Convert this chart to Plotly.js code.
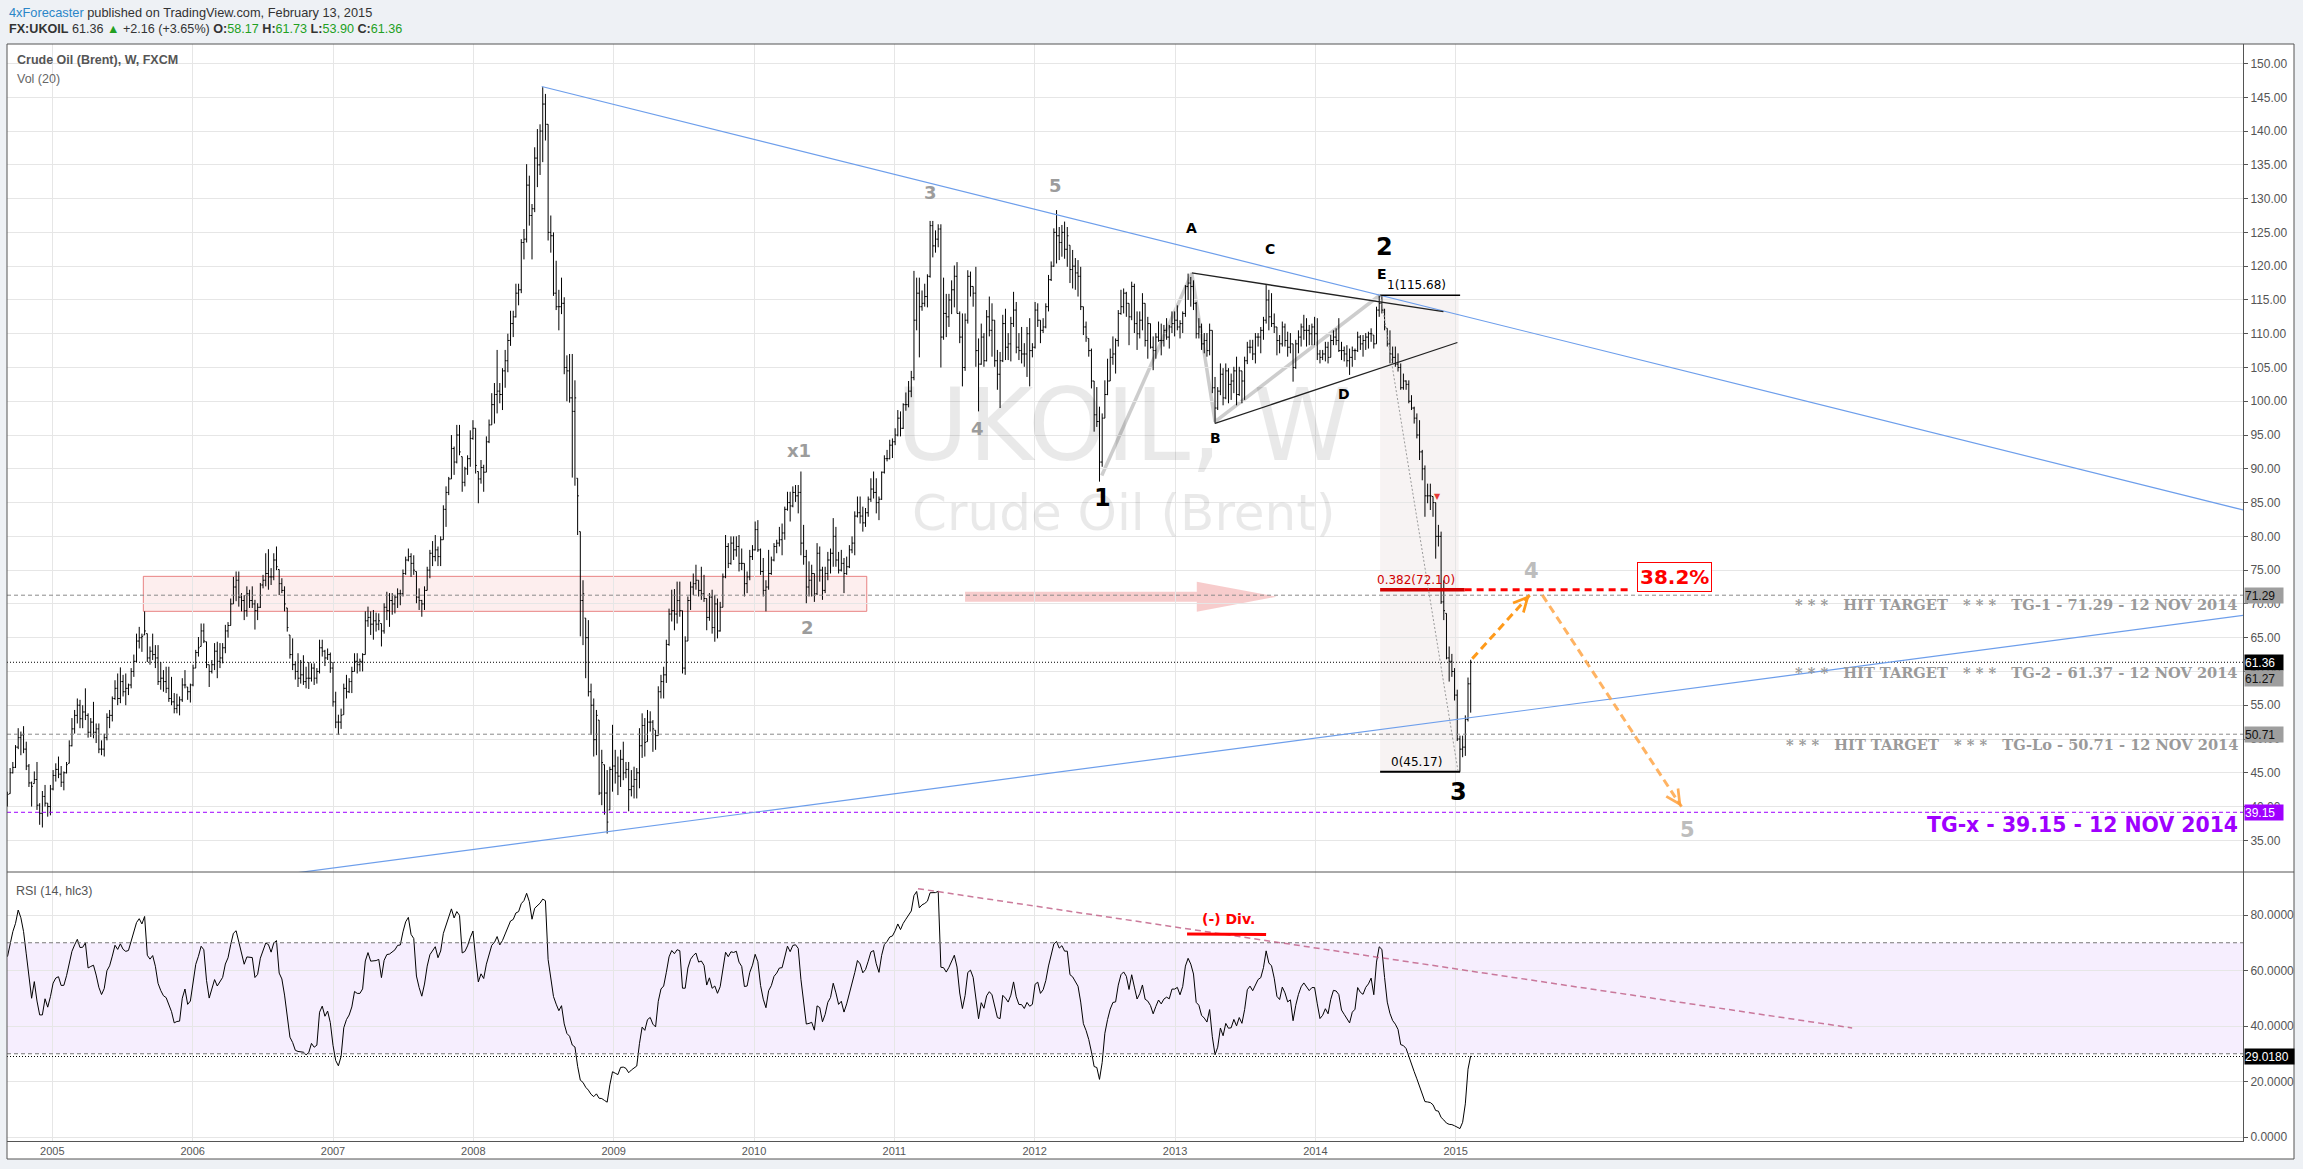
<!DOCTYPE html>
<html><head><meta charset="utf-8">
<script src="https://cdn.plot.ly/plotly-3.0.1.min.js"></script>
<style>html,body{margin:0;padding:0;background:#eef1f5;}#chart{width:2303px;height:1169px;}</style>
</head><body><div id="chart"></div>
<script>
// ---------- DATA (weekly bars, Brent FXCM, first week starts 2004-09-06) ----------
const firstWeekUTC = Date.UTC(2004, 8, 6);
const weekHigh = [
42.2,45.7,46.6,49.1,51.6,51.1,51.9,49.6,46.3,43.7, 45.2,46.6,40.5,42.3,43.2,40.5,43.2,45.4,46.4,47.4,
46.0,45.2,46.6,49.8,53.1,54.3,56.0,55.8,55.0,57.5, 53.8,53.1,55.5,52.3,52.3,49.8,50.8,53.8,54.3,56.3,
58.7,59.7,60.6,59.5,59.7,58.2,60.5,62.5,65.6,66.6, 65.6,68.9,65.6,63.7,65.6,63.9,63.9,61.4,60.2,60.7,
60.7,59.2,56.8,56.7,56.3,59.0,60.2,57.7,58.2,61.0, 63.2,65.1,67.1,67.1,64.4,61.0,61.7,64.2,64.4,64.2,
64.2,66.9,67.3,70.8,74.0,74.8,74.8,71.6,71.3,72.6, 72.1,72.6,70.6,70.1,73.1,74.3,77.5,78.1,75.3,77.5,
78.5,75.1,73.8,72.6,69.4,65.4,64.9,61.5,62.7,61.7, 62.4,60.7,61.4,61.2,61.2,60.5,64.7,64.7,63.2,63.4,
62.8,61.4,57.0,53.6,54.5,58.2,59.5,59.0,60.7,62.7, 62.7,61.9,62.7,68.9,69.6,68.9,69.1,68.7,68.6,67.1,
70.1,71.8,71.6,71.6,71.3,72.3,72.1,75.1,77.0,78.2, 77.5,77.2,74.8,72.3,70.6,72.6,75.5,78.0,79.3,80.2,
78.5,80.0,84.6,87.4,88.8,95.0,93.3,96.5,96.5,91.8, 90.3,92.0,95.7,97.2,96.0,89.6,91.3,90.6,94.8,97.3,
101.2,102.7,107.6,102.7,104.9,107.6,110.0,113.4,113.4,117.4, 117.4,124.0,125.5,135.1,133.4,129.2,137.6,140.3,141.0,146.5,
145.5,141.0,127.5,125.0,120.8,116.5,118.3,115.4,106.8,107.0, 107.0,103.1,88.6,80.7,73.5,67.9,67.6,58.2,56.0,54.3,
52.8,48.4,46.2,45.4,45.9,52.1,48.4,47.4,48.4,49.6, 46.6,46.6,45.4,45.9,45.7,51.6,53.8,53.1,54.3,54.1,
52.8,51.3,57.8,59.5,60.7,64.7,69.3,72.1,72.2,73.3, 73.3,69.0,65.2,71.1,73.3,74.5,75.8,73.5,75.5,74.3,
70.8,71.6,72.1,71.3,70.8,70.3,74.5,80.2,79.0,80.0, 80.0,80.0,80.2,78.2,76.0,74.8,78.0,78.7,82.2,82.4,
78.2,76.8,73.5,78.0,77.0,79.0,79.5,81.4,81.9,84.4, 86.6,86.6,87.4,87.6,87.6,89.6,81.7,78.0,76.3,75.8,
74.5,79.0,78.5,75.5,75.5,77.7,78.2,82.7,81.4,77.7, 78.0,76.8,77.0,78.7,80.0,83.7,85.9,85.9,84.4,84.2,
85.9,88.6,89.6,88.6,85.9,89.6,92.0,92.8,94.3,94.5, 96.0,98.7,98.5,99.7,101.3,103.0,104.5,119.3,118.3,118.3,
116.4,117.4,118.8,126.7,126.7,125.3,126.2,126.2,118.3,115.9, 115.9,117.9,120.1,120.6,113.3,113.0,113.0,119.4,119.2,117.0,
119.9,109.3,111.5,110.1,113.5,115.5,114.5,112.0,107.6,107.3, 112.8,113.7,110.1,112.5,116.2,114.7,110.1,111.0,108.6,111.0,
112.3,108.6,114.7,114.5,112.0,112.3,114.5,118.7,120.7,125.6, 128.3,125.8,126.1,126.6,125.8,123.1,122.4,121.2,120.9,119.9,
114.0,111.8,109.3,107.8,103.0,102.1,99.2,98.2,103.1,106.3, 107.8,109.6,109.3,113.5,116.5,116.7,116.2,114.5,117.7,117.4,
113.3,113.3,116.0,114.5,112.5,111.5,109.6,110.1,111.8,111.5, 111.3,112.3,111.3,113.3,113.3,114.2,112.0,113.3,117.2,118.9,
118.4,117.9,114.7,112.3,111.5,110.1,110.1,111.5,110.5,103.6, 102.1,105.6,104.9,105.6,104.9,104.1,105.1,106.6,105.1,104.5,
106.6,108.8,109.1,109.1,110.1,110.1,111.0,112.5,117.2,116.5, 116.0,113.0,111.0,109.8,111.8,111.5,110.3,110.1,108.5,109.1,
110.5,111.5,112.8,112.3,111.3,111.5,112.5,112.3,107.6,107.6, 108.8,108.8,109.8,110.5,110.8,112.3,108.8,108.1,108.3,107.8,
108.1,107.8,110.3,109.8,109.8,110.1,110.3,110.8,109.8,114.0, 115.68,115.6,113.7,110.8,110.5,108.1,108.1,107.1,105.6,104.1,
103.1,103.1,100.9,99.2,98.2,97.2,92.8,90.5,87.8,87.8, 85.9,85.0,81.7,80.7,73.5,68.6,63.7,62.6,60.5,57.3,
50.5,50.5,53.5,59.1,61.73];
const weekLow = [
40.0,41.9,44.9,45.7,48.5,47.6,47.9,45.4,42.9,40.0, 43.4,39.5,37.3,36.9,40.0,38.5,38.7,42.4,43.7,44.2,
42.9,42.4,44.9,46.4,48.9,50.8,52.3,51.6,51.6,52.8, 50.2,50.3,50.1,49.4,47.9,47.6,47.4,49.8,51.6,52.6,
55.8,55.0,55.3,56.3,55.0,56.5,57.5,59.2,61.4,63.4, 62.9,65.4,61.4,61.0,61.7,60.5,58.0,57.3,57.0,56.8,
55.5,55.0,53.8,53.8,53.5,55.5,57.5,55.8,55.4,57.8, 60.5,62.2,63.7,64.2,60.5,57.7,59.7,60.2,59.0,60.5,
61.2,62.7,65.0,66.8,70.0,70.4,69.6,68.9,67.6,68.1, 69.4,69.4,66.2,67.6,69.4,72.3,72.6,72.1,72.8,73.5,
75.0,71.3,71.6,68.9,65.9,61.9,60.2,58.8,57.7,58.2, 58.0,57.5,57.4,58.5,58.0,58.2,59.7,62.2,60.8,61.7,
59.8,54.8,51.6,50.6,51.5,53.6,56.0,56.8,56.8,60.0, 59.7,60.0,60.0,62.5,66.6,65.4,64.7,65.9,66.1,63.7,
65.6,67.6,66.6,68.4,68.6,69.4,69.8,71.1,74.3,76.3, 74.0,74.3,70.1,69.1,68.1,69.1,72.0,73.8,75.6,76.3,
75.6,75.6,79.5,81.4,86.1,88.5,89.1,90.8,92.0,86.6, 87.4,89.1,90.3,94.3,89.3,84.9,87.8,86.6,89.5,93.8,
96.5,96.7,98.2,99.7,98.7,102.0,104.3,108.2,109.5,112.4, 114.2,116.0,121.0,123.5,126.0,121.0,128.0,131.7,133.5,135.4,
138.6,123.8,122.0,115.6,113.5,110.5,112.9,104.0,100.0,99.8, 88.7,87.5,80.2,65.2,63.9,59.0,56.3,50.6,47.4,47.6,
41.7,40.2,38.8,36.0,39.5,42.2,43.4,41.7,42.9,43.9, 44.2,39.3,41.5,41.2,41.2,42.7,47.2,47.4,49.6,51.1,
48.1,48.4,50.5,56.0,56.0,58.3,63.8,67.4,66.1,67.1, 68.1,59.7,59.5,64.5,69.1,71.3,72.1,71.1,70.6,70.3,
66.1,67.5,65.6,64.4,64.9,65.9,69.5,73.8,75.3,75.8, 76.5,77.0,74.8,75.0,71.1,71.6,73.5,76.5,77.9,77.7,
74.3,71.1,68.9,72.1,74.3,76.3,77.5,78.5,77.2,79.5, 83.8,82.2,84.3,85.1,83.4,77.2,75.8,70.1,71.1,71.1,
70.3,71.3,73.3,70.6,71.6,73.5,74.5,75.5,75.5,74.5, 74.8,71.6,74.3,75.3,77.5,77.2,82.8,81.9,80.7,81.4,
82.9,85.1,85.6,83.4,82.4,85.4,89.3,91.1,91.4,91.6, 93.5,94.8,94.8,95.9,98.6,99.1,100.6,103.1,110.5,106.5,
113.4,114.0,113.9,118.3,121.3,122.0,122.8,105.0,109.1,109.5, 111.0,112.9,113.9,113.0,108.6,102.2,104.5,111.5,115.5,114.0,
105.1,98.5,105.4,105.1,105.9,109.6,106.6,105.1,101.7,99.0, 105.8,106.1,106.1,105.9,111.0,107.1,106.1,105.6,105.1,103.6,
102.2,106.5,107.8,111.0,108.6,110.1,110.8,113.3,117.8,119.9, 120.4,120.9,121.4,121.1,119.9,117.5,116.7,116.5,115.5,113.5,
109.8,108.8,106.6,101.9,95.5,96.2,88.1,90.3,97.5,100.9, 103.0,105.4,104.1,108.1,112.8,113.0,112.5,108.3,112.0,110.1,
107.6,109.3,110.5,108.1,106.3,107.8,104.6,106.3,108.8,106.8, 108.1,109.1,107.8,110.1,109.6,110.5,109.3,110.1,112.5,115.0,
114.0,113.5,109.3,109.3,107.6,107.1,106.6,106.8,101.2,96.7, 98.7,100.9,99.4,100.3,99.7,100.2,101.2,99.4,100.8,99.7,
100.2,105.5,107.1,106.1,105.6,108.1,107.1,109.1,111.5,110.5, 111.0,110.1,106.8,107.1,108.1,108.1,106.6,107.1,102.9,104.8,
107.1,108.1,109.1,108.1,108.3,108.3,108.3,106.1,105.6,106.1, 105.9,105.6,106.5,108.3,108.3,107.3,106.1,105.9,105.1,103.9,
105.1,106.1,107.3,107.6,106.6,107.6,107.8,108.8,107.8,108.5, 112.5,113.0,110.5,108.1,105.6,105.6,105.1,104.4,101.7,101.7,
101.7,99.7,98.7,96.7,94.5,91.3,88.3,82.9,84.9,83.9, 82.9,76.7,78.5,70.0,67.6,61.8,58.5,59.2,55.7,49.7,
45.17,47.3,47.5,52.6,53.9];
const weekClose = [
41.8,45.0,45.8,48.8,50.2,50.6,48.5,46.0,43.5,43.0, 44.0,40.2,39.0,41.5,40.5,40.0,42.6,44.6,45.5,44.8,
43.6,45.0,46.2,49.0,51.5,53.5,55.0,53.0,54.0,53.5, 51.0,52.5,51.0,51.5,48.5,48.5,50.2,53.2,53.5,56.0,
57.5,56.0,58.5,57.0,57.5,58.0,60.0,61.5,64.5,65.0, 65.2,66.0,62.0,63.0,62.5,62.0,58.5,59.0,58.5,57.5,
56.0,55.5,54.5,55.0,55.8,58.0,58.0,57.0,58.0,60.5, 62.8,63.5,66.0,64.5,61.0,60.0,61.0,63.0,61.5,62.0,
63.5,66.0,66.8,70.0,72.5,73.5,71.0,70.5,69.0,71.5, 70.5,70.0,69.0,69.5,72.8,73.5,74.5,74.0,74.0,76.5,
75.5,73.0,72.0,70.0,66.5,62.5,61.0,60.0,59.0,59.5, 58.5,59.0,59.0,60.5,59.0,60.0,63.5,63.0,62.0,62.5,
60.5,55.5,52.5,52.5,53.5,57.5,57.0,58.5,60.0,61.5, 61.0,61.5,62.5,67.5,68.0,67.0,67.5,67.0,67.5,66.0,
69.5,69.0,70.5,70.0,71.0,71.5,71.5,74.5,76.5,77.0, 76.0,75.0,71.0,70.5,70.0,72.0,75.0,77.5,77.0,78.0,
77.0,79.5,84.0,86.5,88.5,93.0,91.0,95.0,92.5,88.0, 90.0,91.5,94.5,96.0,90.5,88.5,90.2,89.5,94.0,96.5,
99.5,101.0,101.5,101.0,104.5,106.0,109.0,111.5,112.5,116.0, 116.5,123.5,124.0,132.0,127.5,128.5,136.0,135.0,140.0,144.0,
141.0,125.0,124.5,116.0,114.0,114.0,114.5,105.0,104.5,100.5, 98.5,100.5,86.0,70.5,71.5,65.0,57.0,55.0,49.9,53.5,
42.0,46.5,42.0,37.7,45.5,46.0,45.0,44.5,47.0,45.0, 45.5,42.5,43.0,44.0,45.0,49.0,52.0,49.5,52.5,52.5,
51.5,50.5,57.0,58.5,59.5,64.0,68.5,69.0,68.5,70.5, 69.0,60.5,64.5,70.5,72.5,73.0,73.5,72.0,71.5,70.8,
68.0,71.0,66.5,70.0,66.0,69.5,74.0,78.5,76.0,79.0, 78.0,78.5,76.0,76.0,73.0,74.0,77.0,78.0,81.0,78.0,
74.8,72.0,72.5,74.5,76.5,78.5,79.0,79.5,80.5,84.0, 85.0,84.5,86.5,86.0,86.5,79.0,77.0,72.5,73.5,74.5,
71.5,77.5,75.0,72.0,74.5,76.5,77.5,80.0,76.5,75.0, 76.0,74.5,75.5,78.0,79.0,83.0,83.5,83.0,82.0,83.5,
85.5,87.0,86.5,85.0,85.5,89.5,91.5,91.5,93.5,94.0, 95.0,97.5,96.0,99.5,99.5,101.5,103.5,112.0,116.0,114.0,
114.5,115.5,118.5,126.0,123.0,124.0,125.5,109.5,113.0,112.5, 115.0,116.5,118.5,113.0,109.5,105.0,112.0,118.5,117.0,116.0,
107.5,105.5,109.5,106.0,112.5,110.5,112.0,106.0,104.0,106.0, 111.5,108.0,108.5,111.5,113.5,108.0,107.5,107.0,107.0,110.0,
107.5,108.0,113.5,112.0,110.5,111.0,114.0,118.0,120.0,125.0, 124.5,123.5,125.0,122.5,124.5,119.5,120.0,119.0,118.5,114.0,
111.0,109.5,107.5,103.0,98.0,97.0,91.0,97.5,101.0,103.0, 106.5,107.0,109.0,113.0,114.0,116.0,114.5,112.5,117.0,111.5,
110.0,112.0,114.5,109.0,111.5,108.0,107.5,109.5,109.0,109.0, 110.5,109.5,111.0,111.5,112.0,111.0,111.5,113.0,117.0,117.5,
117.0,114.5,110.0,111.0,108.5,109.0,107.5,110.5,102.0,99.0, 101.5,104.0,100.5,104.5,102.5,103.0,104.5,101.0,104.5,103.0,
106.0,108.0,108.0,107.0,109.5,109.5,110.5,112.0,115.0,112.5, 111.5,111.0,109.0,108.5,111.0,109.0,108.0,108.5,105.0,108.5,
109.5,111.0,110.5,110.5,110.0,111.0,110.0,107.0,106.5,107.0, 108.0,106.5,109.0,109.5,109.0,107.5,107.5,107.0,106.0,106.5,
107.5,107.5,109.5,108.5,109.0,109.5,110.0,110.0,108.5,113.5, 114.5,113.5,111.0,108.5,107.0,106.5,105.5,105.0,102.0,103.0,
102.5,100.0,99.0,97.5,95.0,92.5,90.0,86.0,86.0,86.0, 85.0,80.0,80.0,70.3,69.0,62.0,61.5,60.0,56.5,50.0,
48.5,48.8,52.9,58.17,61.36];
const firstOpen = 41.0;
// RSI(14, hlc3) for the first 14 weeks, read from the lower pane (older history is not in the arrays)
const rsiLead = [65,70,74,77,81.8,79,74,66,57,50,56,49,44,44];
const yearTicks = [2005,2006,2007,2008,2009,2010,2011,2012,2013,2014,2015];
const priceTicks = [35,40,45,50,55,60,65,70,75,80,85,90,95,100,105,110,115,120,125,130,135,140,145,150];
const rsiTicks = [0,20,40,60,80];

// ---------- chart drawings (anchors in decimal year / price) ----------
const resistanceLine = [[2008.4875,146.6],[2020.6107,83.9]];
const supportLine = [[2006.6867,30.04],[2020.6107,68.3]];
const zoneBox = [2005.6485,2010.8034,68.90,74.08];
const zoneArrow = {x0:2011.5037, xb:2013.155, xt:2013.725, y:71.07, h:0.74, H:2.22};
const waveZigzag = [[2012.4780,89.0],[2013.1193,118.94],[2013.2854,96.97],[2014.4614,115.73]];
const triUpper = [[2013.1193,119.0],[2014.9124,113.26]];
const triLower = [[2013.2854,96.73],[2015.0121,108.7]];
const fib = {x0:2014.4614, x1:2015.0314, shadeEnd:2015.0207, labelX:2014.7179, redEnd:2015.0635, dashEnd:2016.2569, diagEnd:2015.017};
const fibLevels = [[115.68,'1(115.68)','#000000'],[72.10,'0.382(72.10)','#d00000'],[45.17,'0(45.17)','#000000']];
const orangePath1 = [[2015.1182,61.9],[2015.5272,71.3]];
const orangePath2 = [[2015.6177,71.3],[2016.6090,39.98]];
const levelLines = [[71.29,'#8a8a8a','4px,3px'],[61.36,'#000000','1px,2px'],[50.71,'#8a8a8a','4px,3px'],[39.15,'#9f00ff','4px,3px']];
const axisTags = [[71.29,'71.29','#9e9e9e','#111',0],[61.36,'61.36','#000','#fff',0],[61.27,'61.27','#9e9e9e','#111',-16],[50.71,'50.71','#9e9e9e','#111',0],[39.15,'39.15','#9f00ff','#fff',0]];
const hitTargets = [['TG-1 - 71.29 - 12 NOV 2014',69.84],['TG-2 - 61.37 - 12 NOV 2014',59.88],['TG-Lo - 50.71 - 12 NOV 2014',49.26]];
const waveGray = [['3',2011.2540,130.98],['5',2012.1448,132.01],['4',2011.5894,96.04],['x1',2010.3231,92.78],['2',2010.3830,66.58]];
const waveLight = [['4',2015.5373,74.92],['5',2016.6490,36.53]];
const waveBlack = [['1',2012.4823,85.63],['2',2014.4899,122.79],['3',2015.0186,42.20]];
const triLetters = [['A',2013.1193,125.60],['B',2013.2903,94.60],['C',2013.6773,122.49],['D',2014.2067,101.03],['E',2014.4754,118.79]];
const alertMark = [2014.8725,85.87];
const rsiTrend = [[2011.1685,89.5],[2017.8248,39.3]];
const rsiDiv = [[2013.0859,73.2],[2013.6489,73.0]];

// ---------- build ----------
const DAY = 86400000;
function decYear(ms){const y=new Date(ms).getUTCFullYear();const a=Date.UTC(y,0,1),b=Date.UTC(y+1,0,1);return y+(ms-a)/(b-a);}
const n = weekClose.length;
const weekX = weekClose.map((_,i)=>decYear(firstWeekUTC+i*7*DAY));
const weekOpen = weekClose.map((_,i)=>{const p=i===0?firstOpen:weekClose[i-1];return Math.min(Math.max(p,weekLow[i]),weekHigh[i]);});
const hlc3 = weekClose.map((c,i)=>(weekHigh[i]+weekLow[i]+c)/3);
const rsi = new Array(n).fill(null);
rsiLead.forEach((v,i)=>rsi[i]=v);
let ag=0, al=0;
for(let i=1;i<=14;i++){const d=hlc3[i]-hlc3[i-1];ag+=Math.max(d,0);al+=Math.max(-d,0);}
ag/=14; al/=14; rsi[14]=100-100/(1+ag/al);
for(let i=15;i<n;i++){const d=hlc3[i]-hlc3[i-1];ag=(ag*13+Math.max(d,0))/14;al=(al*13+Math.max(-d,0))/14;rsi[i]=al===0?100:100-100/(1+ag/al);}

const xRange=[2004.677,2020.610];
const traces=[
 {type:'ohlc',x:weekX,open:weekOpen,high:weekHigh,low:weekLow,close:weekClose,xaxis:'x',yaxis:'y',
  increasing:{line:{color:'#000',width:1}},decreasing:{line:{color:'#000',width:1}},tickwidth:0.45,hoverinfo:'skip'},
 {type:'scatter',mode:'lines',x:weekX,y:rsi,xaxis:'x2',yaxis:'y2',line:{color:'#000',width:1},hoverinfo:'skip'}
];

const SANS='DejaVu Sans, Verdana, sans-serif';
const ARIAL='Liberation Sans, Arial, sans-serif';
const shapes=[];
const ann=[];
function line(p,q,color,width,dash,xr,yr,layer){shapes.push({type:'line',xref:xr||'x',yref:yr||'y',x0:p[0],y0:p[1],x1:q[0],y1:q[1],line:{color:color,width:width,dash:dash||'solid'},layer:layer||'above'});}
shapes.push({type:'rect',xref:'paper',yref:'paper',x0:0,x1:1.02281,y0:-0.01641,y1:1,fillcolor:'#ffffff',line:{width:0},layer:'below'});
shapes.push({type:'rect',xref:'x',yref:'y',x0:zoneBox[0],x1:zoneBox[1],y0:zoneBox[2],y1:zoneBox[3],fillcolor:'rgba(242,120,120,0.13)',line:{color:'rgba(228,110,110,0.85)',width:1},layer:'below'});
shapes.push({type:'rect',xref:'x',yref:'y',x0:fib.x0,x1:fib.shadeEnd,y0:45.17,y1:115.68,fillcolor:'rgba(190,160,160,0.13)',line:{width:0},layer:'below'});
const A=zoneArrow;
shapes.push({type:'path',xref:'x',yref:'y',layer:'below',fillcolor:'rgba(242,170,170,0.6)',line:{width:0},
 path:`M${A.x0},${A.y+A.h} L${A.xb},${A.y+A.h} L${A.xb},${A.y+A.H} L${A.xt},${A.y} L${A.xb},${A.y-A.H} L${A.xb},${A.y-A.h} L${A.x0},${A.y-A.h} Z`});
for(let i=0;i<waveZigzag.length-1;i++) line(waveZigzag[i],waveZigzag[i+1],'rgba(200,200,200,0.9)',3.5,'solid','x','y','below');
levelLines.forEach(l=>line([xRange[0],l[0]],[xRange[1],l[0]],l[1],1,l[2]));
line(resistanceLine[0],resistanceLine[1],'#6d9eeb',1.2);
line(supportLine[0],supportLine[1],'#6d9eeb',1.2);
line(triUpper[0],triUpper[1],'#222',1.3);
line(triLower[0],triLower[1],'#222',1.3);
line([fib.x0,115.68],[fib.x1,115.68],'#000',1.5);
line([fib.x0,72.10],[fib.redEnd,72.10],'#d00000',3.5);
line([fib.redEnd,72.10],[fib.dashEnd,72.10],'#ff0000',3,'7px,5px');
line([fib.x0,45.17],[fib.x1,45.17],'#000',2);
line([fib.x0+0.004,115.68],[fib.diagEnd,45.17],'#9a9a9a',1,'2px,2px');
line(orangePath1[0],orangePath1[1],'#ff9a1a',3,'8px,5px');
line(orangePath2[0],orangePath2[1],'rgba(255,160,60,0.8)',3,'8px,5px');
shapes.push({type:'rect',xref:'x2',yref:'y2',x0:xRange[0],x1:xRange[1],y0:30,y1:70,fillcolor:'#f6eefe',line:{width:0},layer:'below'});
line([xRange[0],70],[xRange[1],70],'#777',1,'4px,3px','x2','y2');
line([xRange[0],30],[xRange[1],30],'#777',1,'4px,3px','x2','y2');
line([xRange[0],29.018],[xRange[1],29.018],'#000',1,'1px,2px','x2','y2');
line(rsiTrend[0],rsiTrend[1],'rgba(190,90,130,0.8)',1.5,'6px,4px','x2','y2');
line(rsiDiv[0],rsiDiv[1],'#ff0000',3,'solid','x2','y2');
shapes.push({type:'line',xref:'paper',yref:'paper',x0:0,x1:1.02281,y0:0.24521,y1:0.24521,line:{color:'#555',width:1},layer:'above'});
shapes.push({type:'rect',xref:'paper',yref:'paper',x0:0,x1:1.02281,y0:-0.01641,y1:1,fillcolor:'rgba(0,0,0,0)',line:{color:'#555',width:1},layer:'above'});

function T(x,y,text,font,opt){ann.push(Object.assign({x:x,y:y,xref:'x',yref:'y',text:text,showarrow:false,font:font,xanchor:'center',yanchor:'middle'},opt||{}));}
const P={xref:'paper',yref:'paper'};
T(0.49955,0.65178,'UKOIL, W',{family:SANS,size:99,color:'rgba(0,0,0,0.085)'},P);
T(0.49955,0.57247,'Crude Oil (Brent)',{family:SANS,size:50,color:'rgba(0,0,0,0.085)'},P);
T(0,1.02826,'<span style="color:#2b86c8">4xForecaster</span> published on TradingView.com, February 13, 2015',{family:ARIAL,size:12.8,color:'#333'},Object.assign({xanchor:'left'},P));
const G='#22a022';
T(0,1.01367,`<b>FX:UKOIL</b> 61.36 <span style="color:${G}">▲</span> +2.16 (+3.65%) <b>O:</b><span style="color:${G}">58.17</span> <b>H:</b><span style="color:${G}">61.73</span> <b>L:</b><span style="color:${G}">53.90</span> <b>C:</b><span style="color:${G}">61.36</span>`,{family:ARIAL,size:12.6,color:'#333'},Object.assign({xanchor:'left'},P));
T(0.00358,0.98541,'<b>Crude Oil (Brent), W, FXCM</b>',{family:ARIAL,size:12.5,color:'#555'},Object.assign({xanchor:'left'},P));
T(0.00358,0.96809,'Vol (20)',{family:ARIAL,size:12.5,color:'#666'},Object.assign({xanchor:'left'},P));
T(0.00313,0.22789,'RSI (14, hlc3)',{family:ARIAL,size:12.5,color:'#555'},Object.assign({xanchor:'left'},P));
waveGray.forEach(w=>T(w[1],w[2],'<b>'+w[0]+'</b>',{family:SANS,size:18,color:'#9c9c9c'}));
waveLight.forEach(w=>T(w[1],w[2],'<b>'+w[0]+'</b>',{family:SANS,size:21,color:'#bdbdbd'}));
waveBlack.forEach(w=>T(w[1],w[2],'<b>'+w[0]+'</b>',{family:SANS,size:24,color:'#000'}));
triLetters.forEach(w=>T(w[1],w[2],'<b>'+w[0]+'</b>',{family:SANS,size:14,color:'#000'}));
T(alertMark[0],alertMark[1],'▼',{family:SANS,size:8,color:'#e53935'});
fibLevels.forEach(f=>T(fib.labelX,f[0],f[1],{family:SANS,size:12,color:f[2]},{yanchor:'bottom',yshift:1}));
T(2016.5561,73.98,'<b>38.2%</b>',{family:SANS,size:20,color:'#ff0000'},{bgcolor:'#ffffff',bordercolor:'#ff0000',borderwidth:1,borderpad:2});
ann.push({x:orangePath1[1][0],y:orangePath1[1][1],xref:'x',yref:'y',ax:-6,ay:6.6,text:'',showarrow:true,arrowhead:5,arrowsize:1.1,arrowwidth:2.5,arrowcolor:'#ff9a1a'});
ann.push({x:orangePath2[1][0],y:orangePath2[1][1],xref:'x',yref:'y',ax:-4.8,ay:-7.3,text:'',showarrow:true,arrowhead:5,arrowsize:1.1,arrowwidth:2.5,arrowcolor:'rgba(255,160,60,0.85)'});
const NB='\u00a0';
hitTargets.forEach(h=>T(2020.5852,h[1],'<b>*'+NB+'*'+NB+'*'+NB+NB+NB+'HIT TARGET'+NB+NB+NB+'*'+NB+'*'+NB+'*'+NB+NB+NB+h[0]+'</b>',{family:'DejaVu Serif, serif',size:14.6,color:'#9a9a9a'},{xanchor:'right'}));
T(2020.5852,37.28,'<b>TG-x - 39.15 - 12 NOV 2014</b>',{family:SANS,size:20.4,color:'#9f00ff'},{xanchor:'right'});
axisTags.forEach(t=>ann.push({xref:'paper',yref:'y',x:1,y:t[0],xanchor:'left',yanchor:'middle',xshift:1,yshift:t[4],text:t[1],showarrow:false,bgcolor:t[2],font:{family:ARIAL,size:12,color:t[3]},width:38,height:15,align:'left',borderpad:0}));
ann.push({xref:'paper',yref:'y2',x:1,y:29.018,xanchor:'left',yanchor:'middle',xshift:1,text:'29.0180',showarrow:false,bgcolor:'#000',font:{family:ARIAL,size:12,color:'#fff'},width:49,height:15,align:'left',borderpad:0});
T(2013.3781,78.4,'<b>(-) Div.</b>',{family:SANS,size:14,color:'#ff0000'},{xref:'x2',yref:'y2'});

const gridC='#e6e6e6';
const tickF={family:ARIAL,size:12,color:'#555'};
const layout={
 width:2303,height:1169,margin:{l:7,r:60,t:44,b:28},
 paper_bgcolor:'#eef1f5',plot_bgcolor:'#ffffff',showlegend:false,dragmode:false,
 xaxis:{range:xRange,domain:[0,1],anchor:'y',tickvals:yearTicks,showticklabels:false,showgrid:true,gridcolor:gridC,zeroline:false,rangeslider:{visible:false},ticks:'',showline:false},
 xaxis2:{range:xRange,domain:[0,1],anchor:'y2',matches:'x',tickvals:yearTicks,ticktext:yearTicks.map(String),showgrid:true,gridcolor:gridC,zeroline:false,ticks:'',showline:true,linecolor:'#555',linewidth:1,rangeslider:{visible:false},tickfont:{family:ARIAL,size:11,color:'#555'}},
 yaxis:{domain:[0.24521,1],range:[30.31,152.89],side:'right',anchor:'x',tickvals:priceTicks,ticktext:priceTicks.map(v=>v.toFixed(2)),ticks:'outside',ticklen:4,tickcolor:'#555',showgrid:true,gridcolor:gridC,zeroline:false,showline:true,linecolor:'#555',tickfont:tickF},
 yaxis2:{domain:[0,0.24521],range:[-1.44,95.5],side:'right',anchor:'x2',tickvals:rsiTicks,ticktext:rsiTicks.map(v=>v.toFixed(4)),ticks:'outside',ticklen:4,tickcolor:'#555',showgrid:true,gridcolor:gridC,zeroline:false,showline:true,linecolor:'#555',tickfont:tickF},
 shapes:shapes,annotations:ann
};
Plotly.newPlot('chart',traces,layout,{staticPlot:true,displayModeBar:false});
</script></body></html>
